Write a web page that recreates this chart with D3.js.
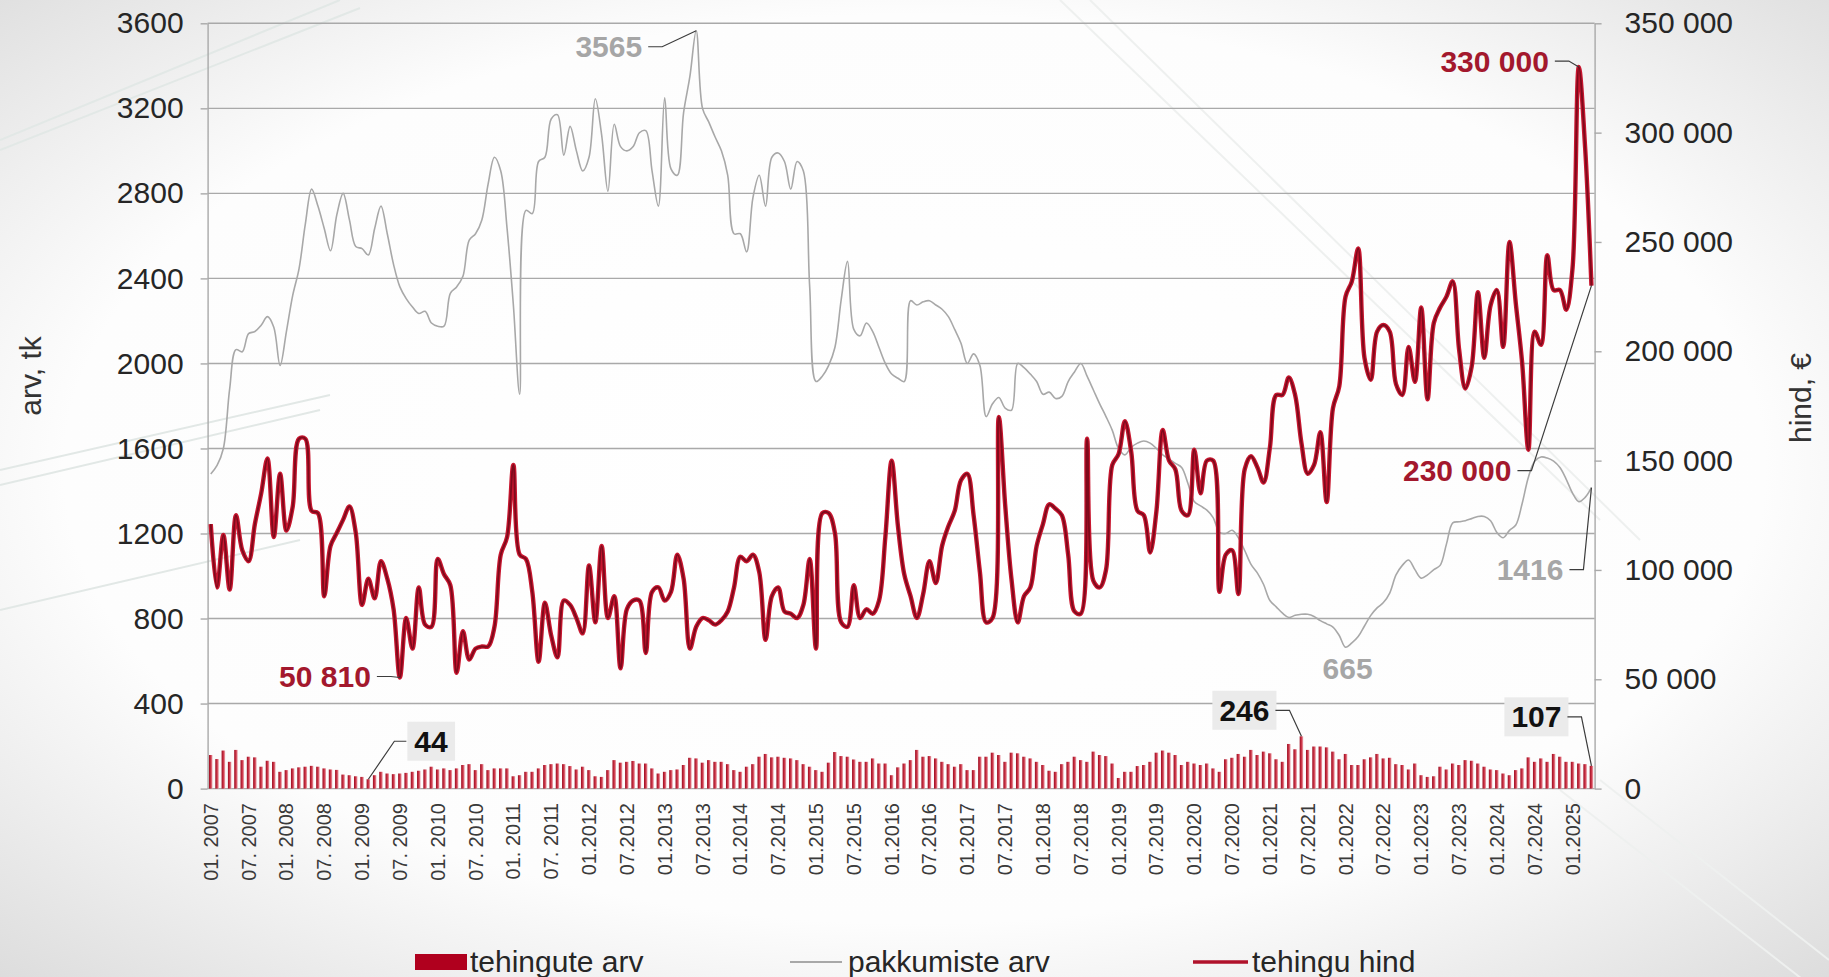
<!DOCTYPE html>
<html>
<head>
<meta charset="utf-8">
<script src="https://cdn.jsdelivr.net/npm/d3@7"></script>
<style>
html, body { margin: 0; padding: 0; background: #fff; }
svg { display: block; font-family: "Liberation Sans", Arial, sans-serif; }
</style>
</head>
<body>
<svg id="chart"></svg>
<script>
// monthly data 01.2007 - 04.2025
var startYear = 2007, monthCount = 220;

// tehingute arv (bars, left axis)
var tehinguteArv = [
  158,139,179,126,182,134,150,147,103,131,126,79,
  87,95,100,103,107,103,95,90,88,66,63,58,
  55,44,63,79,71,68,71,74,79,84,90,103,
  90,95,87,95,111,115,87,115,87,95,95,95,
  58,63,79,79,95,111,115,118,115,106,90,103,
  87,58,55,87,134,122,126,130,118,118,95,71,
  79,87,90,111,145,142,122,134,126,126,115,87,
  79,103,115,150,163,147,150,145,142,134,115,103,
  87,79,122,172,153,150,137,126,126,142,118,118,
  63,100,118,134,182,150,153,142,126,115,103,115,
  87,87,150,150,169,158,126,169,166,150,142,126,
  111,84,79,115,126,150,134,126,174,158,153,118,
  50,79,79,106,111,126,169,179,169,158,111,126,
  118,111,118,95,79,138,145,163,150,182,158,174,
  166,138,126,210,185,246,182,198,198,194,174,138,
  163,111,111,138,147,163,142,145,115,111,90,118,
  63,55,58,103,90,118,111,134,131,118,103,90,
  87,71,63,87,95,147,126,142,126,163,150,126,
  126,118,115,107
];

// pakkumiste arv (grey line, left axis)
var pakkumisteArv = [
  1480,1520,1600,1880,2065,2055,2140,2150,2180,2220,2170,1990,
  2150,2320,2445,2655,2820,2740,2635,2530,2700,2800,2675,2550,
  2540,2510,2635,2740,2610,2465,2360,2305,2265,2235,2245,2190,
  2175,2175,2330,2360,2410,2580,2610,2675,2845,2970,2905,2635,
  2275,1855,2720,2705,2950,2970,3150,3170,2980,3115,3000,2905,
  2970,3245,3075,2810,3125,3020,3000,3020,3085,3095,2905,2740,
  3250,2915,2885,3180,3350,3565,3200,3135,3065,3000,2885,2610,
  2610,2525,2780,2885,2740,2970,2990,2950,2820,2950,2905,2360,
  1915,1940,1990,2075,2300,2480,2160,2130,2190,2150,2075,2000,
  1950,1930,1915,2295,2275,2290,2295,2275,2255,2220,2160,2095,
  2000,2045,1990,1750,1810,1840,1790,1780,2000,1980,1950,1915,
  1855,1865,1835,1845,1915,1960,2000,1940,1875,1810,1750,1685,
  1600,1570,1605,1625,1635,1625,1600,1570,1550,1530,1510,1435,
  1350,1330,1310,1275,1205,1200,1215,1180,1120,1055,1015,960,
  885,855,825,805,815,820,820,810,790,775,760,720,
  665,685,715,765,815,850,875,920,1005,1050,1075,1030,
  990,1005,1030,1050,1150,1250,1255,1260,1270,1280,1280,1260,
  1205,1180,1215,1240,1340,1465,1540,1560,1555,1540,1510,1455,
  1390,1350,1370,1416
];

// tehingu hind (red line, right axis)
var tehinguHind = [
  121000,92000,116000,91000,125000,109000,104000,121000,135000,151000,115000,144000,
  118000,129000,160000,160000,127000,126000,88000,111000,117000,123000,129000,117000,
  84000,96000,87000,104000,96000,82000,50810,78000,64000,92000,75000,74000,
  105000,98000,93000,53000,72000,59000,64000,65000,65000,74000,107000,115000,
  148000,107000,105000,90000,58000,85000,70000,60000,86000,84000,78000,71000,
  102000,76000,111000,78000,88000,55000,82000,86000,86000,62000,90000,92000,
  86000,90000,107000,96000,64000,74000,78000,77000,75000,77000,81000,92000,
  106000,104000,107000,99000,68000,88000,92000,81000,80000,78000,84000,105000,
  64000,126000,126000,117000,76000,74000,93000,78000,82000,80000,86000,115000,
  150000,120000,98000,88000,78000,89000,104000,94000,111000,120000,127000,141000,
  144000,125000,99000,76000,78000,170000,130000,96000,76000,88000,92000,111000,
  121000,130000,128000,125000,107000,81000,80000,160000,95000,92000,100000,148000,
  153000,168000,154000,127000,125000,108000,127000,164000,150000,146000,127000,125000,
  155000,135000,150000,150000,90000,107000,109000,89000,146000,152000,147000,140000,
  156000,180000,180000,188000,180000,158000,144000,148000,163000,131000,174000,184000,
  225000,232000,247000,197000,187000,209000,212000,209000,185000,180000,202000,186000,
  220000,178000,213000,220000,225000,232000,201000,183000,193000,227000,197000,221000,
  228000,202000,250000,222000,195000,155000,209000,203000,244000,228000,228000,219000,
  238000,330000,293000,230000
];

var tickLabels = [
  "01. 2007","07. 2007","01. 2008","07. 2008","01. 2009","07. 2009",
  "01. 2010","07. 2010","01. 2011","07. 2011","01.2012","07.2012",
  "01.2013","07.2013","01.2014","07.2014","01.2015","07.2015",
  "01.2016","07.2016","01.2017","07.2017","01.2018","07.2018",
  "01.2019","07.2019","01.2020","07.2020","01.2021","07.2021",
  "01.2022","07.2022","01.2023","07.2023","01.2024","07.2024","01.2025"
];

var leftTicks = [0,400,800,1200,1600,2000,2400,2800,3200,3600];
var rightTicks = [0,50000,100000,150000,200000,250000,300000,350000];

var months = [];
for (var i = 0; i < monthCount; i++) {
  var yr = startYear + Math.floor(i / 12), mo = (i % 12) + 1;
  months.push(yr + "-" + (mo < 10 ? "0" + mo : mo));
}

var svgWidth = 1829, svgHeight = 977;
var plotLeft = 207.6, plotRight = 1594.6, plotTop = 23.3, plotBottom = 788.6;

var svg = d3.select("#chart")
    .attr("width", svgWidth)
    .attr("height", svgHeight);

// background
var defs = svg.append("defs");
var bg = defs.append("radialGradient").attr("id", "bg")
    .attr("cx", "50%").attr("cy", "48%").attr("r", "75%");
bg.append("stop").attr("offset", "0%").attr("stop-color", "#ffffff");
bg.append("stop").attr("offset", "62%").attr("stop-color", "#fdfdfd");
bg.append("stop").attr("offset", "100%").attr("stop-color", "#d9d9d9");

var barGrad = defs.append("linearGradient").attr("id", "barGrad")
    .attr("x1", "0").attr("x2", "1").attr("y1", "0").attr("y2", "0");
barGrad.append("stop").attr("offset", "0%").attr("stop-color", "#9c0a1f");
barGrad.append("stop").attr("offset", "55%").attr("stop-color", "#cf3a4c");
barGrad.append("stop").attr("offset", "100%").attr("stop-color", "#eeb0b8");

svg.append("rect").attr("width", svgWidth).attr("height", svgHeight).attr("fill", "url(#bg)");

// faint decoration lines
var deco = [
  [[0,140],[340,0]], [[0,150],[360,8]],
  [[0,470],[330,395]], [[0,485],[320,410]],
  [[0,610],[300,540]],
  [[1060,0],[1600,520]], [[1090,0],[1640,540]],
  [[1560,790],[1829,1000]], [[1600,780],[1829,960]]
];
svg.append("g").selectAll("path").data(deco).enter().append("path")
    .attr("d", function (d) { return d3.line()(d); })
    .attr("stroke", function (d) { return d[0][0] > 1000 ? "#eef0ef" : "#e2e8e6"; })
    .attr("stroke-width", 2)
    .attr("fill", "none");

var x = d3.scaleBand().domain(months).range([plotLeft, plotRight]).padding(0);
var bw = x.bandwidth();
var cx = function (i) { return x(months[i]) + bw / 2; };

var yLeft = d3.scaleLinear().domain([0, 3600]).range([plotBottom, plotTop]);
var yRight = d3.scaleLinear().domain([0, 350000]).range([plotBottom, plotTop]);

// gridlines
svg.append("g").selectAll("line").data(leftTicks).enter().append("line")
    .attr("x1", plotLeft).attr("x2", plotRight)
    .attr("y1", function (d) { return yLeft(d); })
    .attr("y2", function (d) { return yLeft(d); })
    .attr("stroke", "#a9a9a9")
    .attr("stroke-width", 1.4);

var fmtPlain = d3.format("d");
var fmtSpace = function (d) { return d3.format(",")(d).replace(/,/g, " "); };

// left axis
var axL = svg.append("g")
    .attr("transform", "translate(" + plotLeft + ",0)")
    .call(d3.axisLeft(yLeft).tickValues(leftTicks).tickSize(7).tickSizeOuter(0)
        .tickPadding(17).tickFormat(fmtPlain));
// right axis
var axR = svg.append("g")
    .attr("transform", "translate(" + plotRight + ",0)")
    .call(d3.axisRight(yRight).tickValues(rightTicks).tickSize(7).tickSizeOuter(0)
        .tickPadding(23).tickFormat(fmtSpace));

[axL, axR].forEach(function (ax) {
  ax.select(".domain").attr("stroke", "#a9a9a9").attr("stroke-width", 1.4);
  ax.selectAll(".tick line").attr("stroke", "#a9a9a9").attr("stroke-width", 1.4);
  ax.selectAll(".tick text")
      .attr("font-size", 30)
      .attr("fill", "#262626")
      .attr("font-family", "Liberation Sans, Arial, sans-serif");
});

// x tick labels
svg.append("g").selectAll("text").data(tickLabels).enter().append("text")
    .attr("transform", function (d, k) {
      return "translate(" + cx(k * 6) + ",803) rotate(-90)";
    })
    .attr("text-anchor", "end")
    .attr("dy", "0.35em")
    .attr("font-size", 20)
    .attr("fill", "#3a3a3a")
    .text(function (d) { return d; });

// bars
var barW = bw * 0.56;
svg.append("g").selectAll("rect").data(tehinguteArv).enter().append("rect")
    .attr("x", function (d, i) { return cx(i) - barW / 2; })
    .attr("y", function (d) { return yLeft(d); })
    .attr("width", barW)
    .attr("height", function (d) { return plotBottom - yLeft(d); })
    .attr("fill", "url(#barGrad)");

// grey line
var greyLine = d3.line()
    .x(function (d, i) { return cx(i); })
    .y(function (d) { return yLeft(d); })
    .curve(d3.curveCatmullRom.alpha(0.5));
svg.append("path").datum(pakkumisteArv)
    .attr("d", greyLine)
    .attr("fill", "none")
    .attr("stroke", "#a8a8a8")
    .attr("stroke-width", 1.6);

// red line
var redLine = d3.line()
    .x(function (d, i) { return cx(i); })
    .y(function (d) { return yRight(d); })
    .curve(d3.curveCatmullRom.alpha(0.5));
svg.append("path").datum(tehinguHind)
    .attr("d", redLine)
    .attr("fill", "none")
    .attr("stroke", "#c8162f")
    .attr("stroke-width", 4.4)
    .attr("stroke-linejoin", "round");
svg.append("path").datum(tehinguHind)
    .attr("d", redLine)
    .attr("fill", "none")
    .attr("stroke", "#7e0a1c")
    .attr("stroke-width", 1.9)
    .attr("stroke-linejoin", "round");

// axis titles
svg.append("text")
    .attr("transform", "translate(30,376) rotate(-90)")
    .attr("text-anchor", "middle").attr("dy", "0.35em")
    .attr("font-size", 30).attr("fill", "#333")
    .text("arv, tk");
svg.append("text")
    .attr("transform", "translate(1800,398) rotate(-90)")
    .attr("text-anchor", "middle").attr("dy", "0.35em")
    .attr("font-size", 30).attr("fill", "#333")
    .text("hind, €");

// data labels
var ann = svg.append("g");
function label(o) {
  var px = o.px, py = o.py;
  var tx = px + o.dx, ty = py + o.dy;
  var t = ann.append("text")
      .attr("x", tx).attr("y", ty)
      .attr("dy", "0.35em")
      .attr("text-anchor", o.anchor)
      .attr("font-size", 30)
      .attr("font-weight", "bold")
      .attr("fill", o.color)
      .text(o.text);
  if (o.box) {
    var b = t.node().getBBox();
    ann.insert("rect", "text")
        .attr("x", b.x - 7).attr("y", b.y - 3)
        .attr("width", b.width + 14).attr("height", b.height + 6)
        .attr("fill", "#ebebeb");
  }
  if (o.lead) {
    var b2 = t.node().getBBox();
    var pts;
    if (o.anchor === "end") {
      pts = [[b2.x + b2.width + 6, ty], [b2.x + b2.width + 20, ty], [px, py]];
    } else {
      pts = [[b2.x - 8, ty], [b2.x - 20, ty], [px, py]];
    }
    ann.append("path")
        .attr("d", d3.line()(pts))
        .attr("fill", "none")
        .attr("stroke", "#3c3c3c")
        .attr("stroke-width", 1.2);
  }
}

var last = monthCount - 1;
var iMaxOffer = pakkumisteArv.indexOf(d3.max(pakkumisteArv));
var iMinOffer = pakkumisteArv.indexOf(d3.min(pakkumisteArv));
var iMinPrice = tehinguHind.indexOf(d3.min(tehinguHind));
var iMaxPrice = tehinguHind.indexOf(d3.max(tehinguHind));
var iMinDeals = tehinguteArv.indexOf(d3.min(tehinguteArv));
var iMaxDeals = tehinguteArv.indexOf(d3.max(tehinguteArv));
var grey = "#a6a6a6", red = "#a3182d", black = "#111";

label({px: cx(iMaxOffer), py: yLeft(pakkumisteArv[iMaxOffer]), dx: -54, dy: 16, anchor: "end",
       color: grey, text: fmtPlain(pakkumisteArv[iMaxOffer]), lead: true});
label({px: cx(iMinOffer), py: yLeft(pakkumisteArv[iMinOffer]), dx: 2, dy: 21, anchor: "middle",
       color: grey, text: fmtPlain(pakkumisteArv[iMinOffer]), lead: false});
label({px: cx(last), py: yLeft(pakkumisteArv[last]), dx: -28, dy: 82, anchor: "end",
       color: grey, text: fmtPlain(pakkumisteArv[last]), lead: true});
label({px: cx(iMinPrice), py: yRight(tehinguHind[iMinPrice]), dx: -29, dy: -1, anchor: "end",
       color: red, text: fmtSpace(tehinguHind[iMinPrice]), lead: true});
label({px: cx(iMaxPrice), py: yRight(tehinguHind[iMaxPrice]), dx: -30, dy: -6, anchor: "end",
       color: red, text: fmtSpace(tehinguHind[iMaxPrice]), lead: true});
label({px: cx(last), py: yRight(tehinguHind[last]), dx: -80, dy: 185, anchor: "end",
       color: red, text: fmtSpace(tehinguHind[last]), lead: true});
label({px: cx(iMinDeals), py: yLeft(tehinguteArv[iMinDeals]), dx: 46, dy: -38, anchor: "start",
       color: black, text: fmtPlain(tehinguteArv[iMinDeals]), lead: true, box: true});
label({px: cx(iMaxDeals), py: yLeft(tehinguteArv[iMaxDeals]), dx: -32, dy: -26, anchor: "end",
       color: black, text: fmtPlain(tehinguteArv[iMaxDeals]), lead: true, box: true});
label({px: cx(last), py: yLeft(tehinguteArv[last]), dx: -30, dy: -49, anchor: "end",
       color: black, text: fmtPlain(tehinguteArv[last]), lead: true, box: true});

// legend
var lg = svg.append("g");
lg.append("rect").attr("x", 415).attr("y", 954).attr("width", 52).attr("height", 16).attr("fill", "#b0001e");
lg.append("text").attr("x", 470).attr("y", 972).attr("font-size", 30).attr("fill", "#262626").text("tehingute arv");
lg.append("line").attr("x1", 790).attr("x2", 842).attr("y1", 962).attr("y2", 962)
    .attr("stroke", "#a8a8a8").attr("stroke-width", 2);
lg.append("text").attr("x", 848).attr("y", 972).attr("font-size", 30).attr("fill", "#262626").text("pakkumiste arv");
lg.append("line").attr("x1", 1193).attr("x2", 1248).attr("y1", 962).attr("y2", 962)
    .attr("stroke", "#b0122b").attr("stroke-width", 3.5);
lg.append("text").attr("x", 1252).attr("y", 972).attr("font-size", 30).attr("fill", "#262626").text("tehingu hind");
</script>
</body>
</html>
